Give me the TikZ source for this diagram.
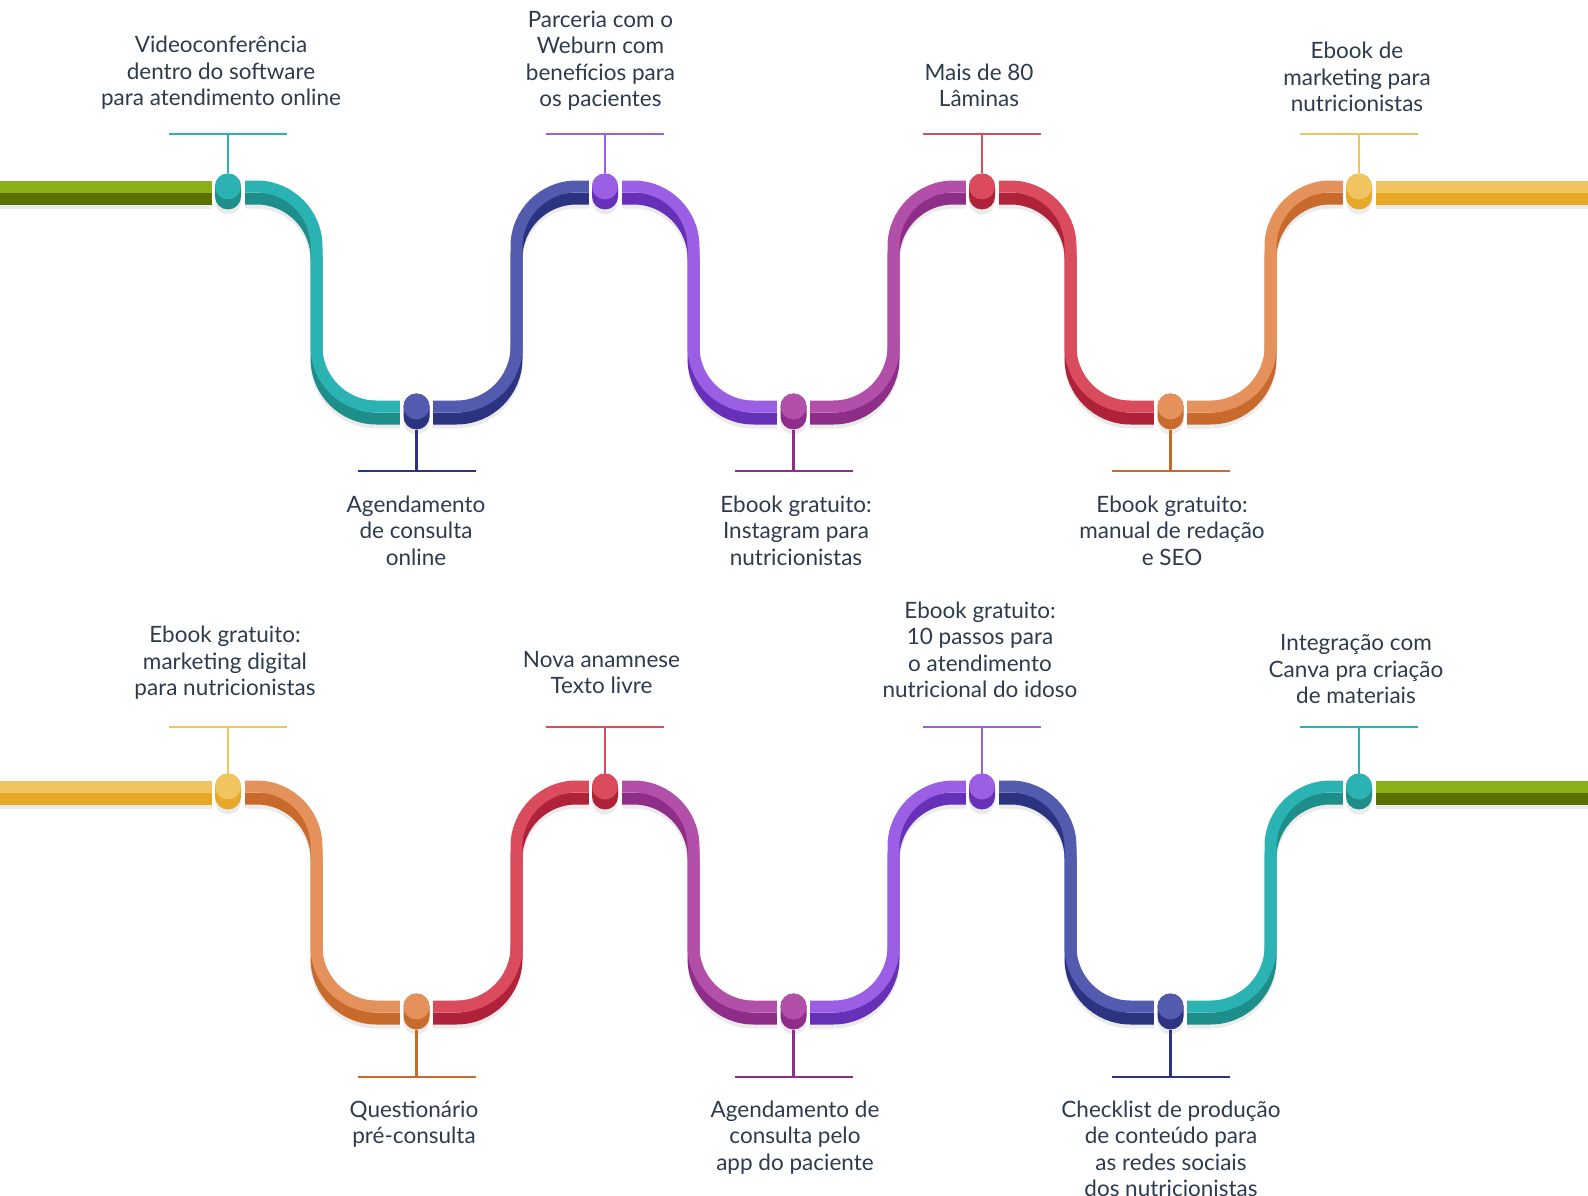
\documentclass[tikz,border=0pt]{standalone}
\usepackage{fontspec}
\setmainfont{Lato}
\usetikzlibrary{positioning}
\definecolor{ink}{HTML}{2E3B4E}
\definecolor{shadowgray}{HTML}{EBEBEB}
\definecolor{greenlt}{HTML}{8BB016}
\definecolor{greendk}{HTML}{5A7000}
\definecolor{teallt}{HTML}{2BB3B3}
\definecolor{tealdk}{HTML}{1D8E8A}
\definecolor{bluelt}{HTML}{535BAE}
\definecolor{bluedk}{HTML}{2C3482}
\definecolor{purplelt}{HTML}{9B5FE6}
\definecolor{purpledk}{HTML}{6630B8}
\definecolor{magentalt}{HTML}{B24FA8}
\definecolor{magentadk}{HTML}{8E2E89}
\definecolor{redlt}{HTML}{DA4B5E}
\definecolor{reddk}{HTML}{AF2239}
\definecolor{orangelt}{HTML}{E4915B}
\definecolor{orangedk}{HTML}{C86A2C}
\definecolor{yellowlt}{HTML}{F0C45E}
\definecolor{yellowdk}{HTML}{E6A826}
\newcommand{\band}[2]{%
  \draw[line width=12pt, shadowgray, rounded corners=60pt, transform canvas={yshift=-16pt}] #2;
  \draw[line width=12pt, #1dk, rounded corners=60pt, transform canvas={yshift=-12pt}] #2;
  \draw[line width=12pt, #1lt, rounded corners=60pt] #2;}
\newcommand{\pin}[2]{%
  \fill[white] ([shift={(-16.5,-8)}]#1) rectangle ([shift={(16.5,24)}]#1);
  \fill[shadowgray, rounded corners=13pt] ([shift={(-13,-8)}]#1) rectangle ([shift={(13,28)}]#1);
  \fill[#2dk, rounded corners=13pt] ([shift={(-13,-13)}]#1) rectangle ([shift={(13,23)}]#1);
  \fill[#2lt] (#1) circle[radius=13pt];}
\begin{document}
\begin{tikzpicture}[x=1pt, y=-1pt,
    lbl/.style={font=\fontsize{22.5}{26.5}\selectfont, text=ink, align=center, inner sep=0pt},
    stem/.style={draw=#1, line width=2.6pt}]
                        \useasboundingbox (0,0) rectangle (1588,1196);
                        \coordinate (sA) at (-20, 186.5);
                        \coordinate (tA1) at (228, 186.5);
                        \coordinate (bA1) at (416.5, 406.5);
                        \coordinate (tA2) at (605, 186.5);
                        \coordinate (bA2) at (793.5, 406.5);
                        \coordinate (tA3) at (982, 186.5);
                        \coordinate (bA3) at (1170.5, 406.5);
                        \coordinate (tA4) at (1359, 186.5);
                        \coordinate (eA) at (1610, 186.5);
                        \coordinate (sB) at (-20, 786.5);
                        \coordinate (tB1) at (228, 786.5);
                        \coordinate (bB1) at (416.5, 1006.5);
                        \coordinate (tB2) at (605, 786.5);
                        \coordinate (bB2) at (793.5, 1006.5);
                        \coordinate (tB3) at (982, 786.5);
                        \coordinate (bB3) at (1170.5, 1006.5);
                        \coordinate (tB4) at (1359, 786.5);
                        \coordinate (eB) at (1610, 786.5);
                        \band{green}{(sA) -- (tA1)}
                        \band{teal}{(tA1) -- ++(88.5,0) |- (bA1)}
                        \band{blue}{(bA1) -- ++(100,0) |- (tA2)}
                        \band{purple}{(tA2) -- ++(88.5,0) |- (bA2)}
                        \band{magenta}{(bA2) -- ++(100,0) |- (tA3)}
                        \band{red}{(tA3) -- ++(88.5,0) |- (bA3)}
                        \band{orange}{(bA3) -- ++(100,0) |- (tA4)}
                        \band{yellow}{(tA4) -- (eA)}
                        \band{yellow}{(sB) -- (tB1)}
                        \band{orange}{(tB1) -- ++(88.5,0) |- (bB1)}
                        \band{red}{(bB1) -- ++(100,0) |- (tB2)}
                        \band{magenta}{(tB2) -- ++(88.5,0) |- (bB2)}
                        \band{purple}{(bB2) -- ++(100,0) |- (tB3)}
                        \band{blue}{(tB3) -- ++(88.5,0) |- (bB3)}
                        \band{teal}{(bB3) -- ++(100,0) |- (tB4)}
                        \band{green}{(tB4) -- (eB)}
                        \pin{tA1}{teal}
                        \pin{bA1}{blue}
                        \pin{tA2}{purple}
                        \pin{bA2}{magenta}
                        \pin{tA3}{red}
                        \pin{bA3}{orange}
                        \pin{tA4}{yellow}
                        \pin{tB1}{yellow}
                        \pin{bB1}{orange}
                        \pin{tB2}{red}
                        \pin{bB2}{magenta}
                        \pin{tB3}{purple}
                        \pin{bB3}{blue}
                        \pin{tB4}{teal}
                        \coordinate (tA1bar) at (228, 134);
                        \coordinate (bA1bar) at (416.5, 471);
                        \coordinate (tA2bar) at (605, 134);
                        \coordinate (bA2bar) at (793.5, 471);
                        \coordinate (tA3bar) at (982, 134);
                        \coordinate (bA3bar) at (1170.5, 471);
                        \coordinate (tA4bar) at (1359, 134);
                        \coordinate (tB1bar) at (228, 727);
                        \coordinate (bB1bar) at (416.5, 1077);
                        \coordinate (tB2bar) at (605, 727);
                        \coordinate (bB2bar) at (793.5, 1077);
                        \coordinate (tB3bar) at (982, 727);
                        \coordinate (bB3bar) at (1170.5, 1077);
                        \coordinate (tB4bar) at (1359, 727);
                        \draw[stem=teallt] (tA1bar) -- ([yshift=13pt]tA1) ([xshift=-59pt]tA1bar) -- ([xshift=59pt]tA1bar);
                        \draw[stem=bluedk] (bA1bar) -- ([yshift=-23pt]bA1) ([xshift=-59pt]bA1bar) -- ([xshift=59pt]bA1bar);
                        \draw[stem=purplelt] (tA2bar) -- ([yshift=13pt]tA2) ([xshift=-59pt]tA2bar) -- ([xshift=59pt]tA2bar);
                        \draw[stem=magentadk] (bA2bar) -- ([yshift=-23pt]bA2) ([xshift=-59pt]bA2bar) -- ([xshift=59pt]bA2bar);
                        \draw[stem=redlt] (tA3bar) -- ([yshift=13pt]tA3) ([xshift=-59pt]tA3bar) -- ([xshift=59pt]tA3bar);
                        \draw[stem=orangedk] (bA3bar) -- ([yshift=-23pt]bA3) ([xshift=-59pt]bA3bar) -- ([xshift=59pt]bA3bar);
                        \draw[stem=yellowlt] (tA4bar) -- ([yshift=13pt]tA4) ([xshift=-59pt]tA4bar) -- ([xshift=59pt]tA4bar);
                        \draw[stem=yellowlt] (tB1bar) -- ([yshift=13pt]tB1) ([xshift=-59pt]tB1bar) -- ([xshift=59pt]tB1bar);
                        \draw[stem=orangedk] (bB1bar) -- ([yshift=-23pt]bB1) ([xshift=-59pt]bB1bar) -- ([xshift=59pt]bB1bar);
                        \draw[stem=redlt] (tB2bar) -- ([yshift=13pt]tB2) ([xshift=-59pt]tB2bar) -- ([xshift=59pt]tB2bar);
                        \draw[stem=magentadk] (bB2bar) -- ([yshift=-23pt]bB2) ([xshift=-59pt]bB2bar) -- ([xshift=59pt]bB2bar);
                        \draw[stem=purplelt] (tB3bar) -- ([yshift=13pt]tB3) ([xshift=-59pt]tB3bar) -- ([xshift=59pt]tB3bar);
                        \draw[stem=bluedk] (bB3bar) -- ([yshift=-23pt]bB3) ([xshift=-59pt]bB3bar) -- ([xshift=59pt]bB3bar);
                        \draw[stem=teallt] (tB4bar) -- ([yshift=13pt]tB4) ([xshift=-59pt]tB4bar) -- ([xshift=59pt]tB4bar);
                        \node[lbl, anchor=south] (videoconf) at (221, 114) {\strut Videoconferência\\dentro do software\\para atendimento online\strut};
                        \node[lbl, anchor=south] (weburn) at (600.5, 115) {\strut Parceria com o\\Weburn com\\benefícios para\\os pacientes\strut};
                        \node[lbl, anchor=south] (laminas) at (979, 115) {\strut Mais de 80\\Lâminas\strut};
                        \node[lbl, anchor=south] (ebookmkt) at (1357, 120) {\strut Ebook de\\marketing para\\nutricionistas\strut};
                        \node[lbl, anchor=north] (agendaonline) at (416, 493.5) {\strut Agendamento\\de consulta\\online\strut};
                        \node[lbl, anchor=north] (instagram) at (796, 493.5) {\strut Ebook gratuito:\\Instagram para\\nutricionistas\strut};
                        \node[lbl, anchor=north] (redacao) at (1172, 493.5) {\strut Ebook gratuito:\\manual de redação\\e SEO\strut};
                        \node[lbl, anchor=south] (mktdigital) at (225, 704) {\strut Ebook gratuito:\\marketing digital\\para nutricionistas\strut};
                        \node[lbl, anchor=south] (anamnese) at (601.5, 702) {\strut Nova anamnese\\Texto livre\strut};
                        \node[lbl, anchor=south] (idoso) at (980, 706) {\strut Ebook gratuito:\\10 passos para\\o atendimento\\nutricional do idoso\strut};
                        \node[lbl, anchor=south] (canva) at (1356, 712) {\strut Integração com\\Canva pra criação\\de materiais\strut};
                        \node[lbl, anchor=north] (questionario) at (414, 1098.5) {\strut Questionário\\pré-consulta\strut};
                        \node[lbl, anchor=north] (agendaapp) at (795, 1098.5) {\strut Agendamento de\\consulta pelo\\app do paciente\strut};
                        \node[lbl, anchor=north] (checklist) at (1171, 1098.5) {\strut Checklist de produção\\de conteúdo para\\as redes sociais\\dos nutricionistas\strut};
\end{tikzpicture}
\end{document}
